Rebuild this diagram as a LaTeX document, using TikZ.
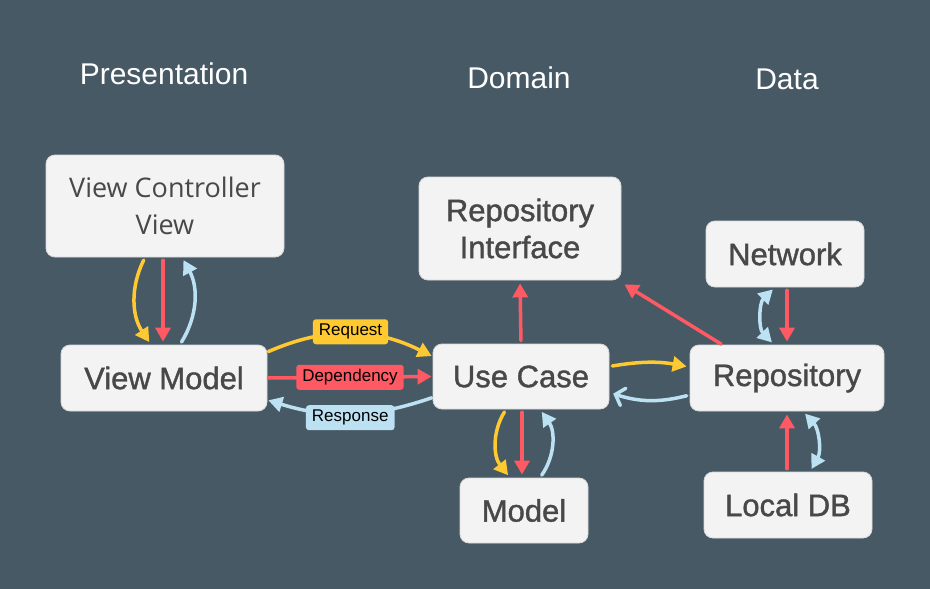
\documentclass[tikz,border=0pt]{standalone}
\usepackage{fontspec}
\setmainfont{Liberation Sans}
\newfontfamily\vcfont{Open Sans}
\newfontfamily\boxfont{Liberation Sans}[FakeBold=1.2]
\usetikzlibrary{arrows.meta}
\definecolor{bgslate}{RGB}{71,89,101}
\definecolor{reqyellow}{RGB}{255,201,49}
\definecolor{depred}{RGB}{255,89,100}
\definecolor{resblue}{RGB}{187,225,242}
\definecolor{boxgray}{RGB}{243,243,243}
\definecolor{textgray}{RGB}{72,72,72}
\tikzset{
	layerbox/.style={draw=black!15, line width=0.8pt, fill=boxgray, rounded corners=9pt, text=textgray, font=\boxfont\fontsize{31}{37}\selectfont, align=center, inner sep=0pt},
	layertitle/.style={text=white, font=\fontsize{30}{36}\selectfont},
	tag/.style={rounded corners=3pt, inner xsep=6pt, inner ysep=0pt, minimum height=25pt, text=black, font=\fontsize{17}{19}\selectfont},
	flow/.style={line width=3.5pt, line cap=round, shorten <=3pt, shorten >=3pt, -{Triangle[length=14pt,width=15pt]}},
	req/.style={flow, draw=reqyellow},
	dep/.style={flow, draw=depred},
	res/.style={flow, draw=resblue},
	resopen/.style={draw=resblue, line width=3.5pt, line cap=round, shorten <=3pt, shorten >=4pt, -{Straight Barb[length=8pt,width=18pt,line cap=round]}},
	resboth/.style={res, {Triangle[length=14pt,width=15pt]}-{Triangle[length=14pt,width=15pt]}}
}

\begin{document}
\begin{tikzpicture}[x=1pt, y=-1pt]
		%%%%% START %%%%%
		
		\fill[bgslate] (0, 0) rectangle (930, 589);
		\useasboundingbox (0, 0) rectangle (930, 589);
		
		\node[layertitle] (presentation) at (164, 74) {Presentation};
		\node[layertitle] (domain) at (519, 78) {Domain};
		\node[layertitle] (data) at (787, 79) {Data};
		
		\node[layerbox, minimum width=238pt, minimum height=102pt, font=\vcfont\fontsize{27}{37}\selectfont] (vcv) at (165, 206) {View Controller\\View};
		\node[layerbox, minimum width=206pt, minimum height=66pt] (vm) at (164, 378) {View Model};
		
		\node[layerbox, minimum width=202pt, minimum height=103pt] (ri) at (520, 228.5) {Repository\\Interface};
		\node[layerbox, minimum width=176pt, minimum height=65pt] (uc) at (521, 376.5) {Use Case};
		\node[layerbox, minimum width=128pt, minimum height=65pt] (model) at (524, 510.5) {Model};
		
		\node[layerbox, minimum width=158pt, minimum height=66pt] (net) at (785, 254) {Network};
		\node[layerbox, minimum width=194pt, minimum height=66pt] (repo) at (787, 378) {Repository};
		\node[layerbox, minimum width=168pt, minimum height=66pt] (ldb) at (788, 505) {Local DB};
		
		% view controller <-> view model
		\draw[req] ([xshift=-20pt]vcv.south) to[bend right=30] ([xshift=-13pt]vm.north);
		\draw[dep] ([xshift=-2pt]vcv.south) -- ([xshift=-1pt]vm.north);
		\draw[res] ([xshift=16pt]vm.north) to[bend right=30] ([xshift=17pt]vcv.south);
		
		% view model <-> use case
		\draw[req, shorten <=1pt, shorten >=1pt] ([yshift=26pt]vm.east) to[bend left=25] node[tag, fill=reqyellow, midway, yshift=2pt] (reqtag) {Request} ([yshift=20pt]uc.west);
		\draw[dep, shorten <=1pt, shorten >=1pt] (vm.east) -- node[tag, fill=depred, midway] (deptag) {Dependency} (uc.west);
		\draw[res, shorten <=1pt, shorten >=1pt] ([yshift=-21pt]uc.west) to[bend left=18] node[tag, fill=resblue, midway, yshift=-4pt] (restag) {Response} ([yshift=-22pt]vm.east);
		
		% use case <-> model
		\draw[req] ([xshift=-15pt]uc.south) to[bend right=35] ([xshift=-14pt]model.north);
		\draw[dep] ([xshift=1pt]uc.south) -- ([xshift=-2pt]model.north);
		\draw[res] ([xshift=16pt]model.north) to[bend right=35] ([xshift=19pt]uc.south);
		
		% dependencies on the interface
		\draw[dep] (uc.north) -- (ri.south);
		\draw[dep, shorten <=1pt, shorten >=0pt] ([xshift=-65pt]repo.north) -- ([shift={(3pt,-4pt)}]ri.south east);
		
		% use case <-> repository
		\draw[req] ([yshift=10pt]uc.east) to[bend left=10] ([yshift=11pt]repo.west);
		\draw[resopen] ([yshift=-17pt]repo.west) to[bend left=16] ([yshift=-16pt]uc.east);
		
		% repository <-> network, local db
		\draw[dep] ([xshift=2pt]net.south) -- (repo.north);
		\draw[resboth] ([xshift=-13pt]repo.north) to[bend left=45] ([xshift=-10pt]net.south);
		\draw[dep] ([xshift=-1pt]ldb.north) -- (repo.south);
		\draw[resboth] ([xshift=16pt]repo.south) to[bend left=36] ([xshift=22pt]ldb.north);
		
		%%%%% END %%%%%
	\end{tikzpicture}
\end{document}
